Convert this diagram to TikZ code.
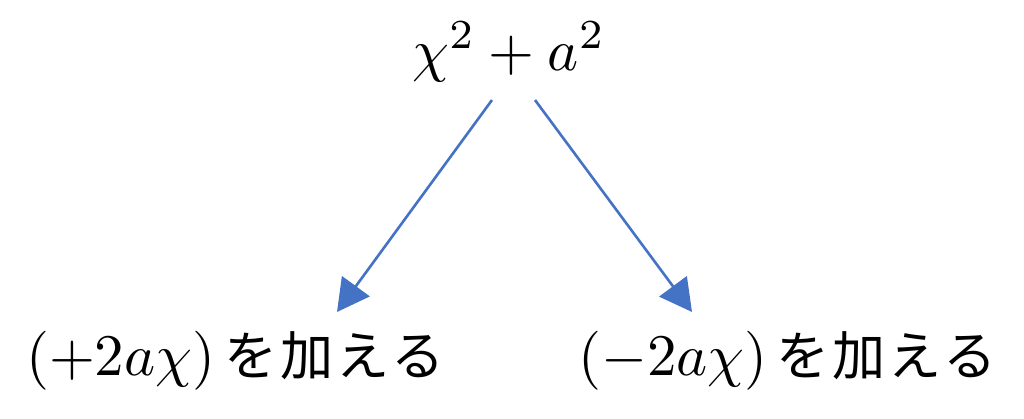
\documentclass[tikz,border=0pt]{standalone}
\usepackage{fontspec}
\newfontfamily\jp[LetterSpace=6]{Noto Sans CJK JP}
\usetikzlibrary{arrows.meta}
\definecolor{arrowblue}{HTML}{4472C4}
\newcommand{\jptext}[1]{\hspace{1.5pt}{\fontsize{9.0}{10}\selectfont\jp #1}}
\tikzset{
  lbl/.style={inner sep=0pt, scale=5.9, transform shape},
  conn/.style={draw=arrowblue, line width=2.6pt, -{Triangle[length=32pt,width=34pt]}}
}
\begin{document}
\begin{tikzpicture}[x=1pt,y=-1pt]
\useasboundingbox (0,0) rectangle (1024,418);
\node[lbl, anchor=base] (t) at (509,70) {$\chi^2+a^2$};
\node[lbl, anchor=base west] (l) at (25,375) {$(+2a\chi)$\jptext{を加える}};
\node[lbl, anchor=base west] (r) at (577,375) {$(-2a\chi)$\jptext{を加える}};
\coordinate (ls) at (492,100);
\coordinate (le) at (337,312);
\coordinate (rs) at (535,100);
\coordinate (re) at (692,312);
\draw[conn] (ls) -- (le);
\draw[conn] (rs) -- (re);
\end{tikzpicture}
\end{document}
